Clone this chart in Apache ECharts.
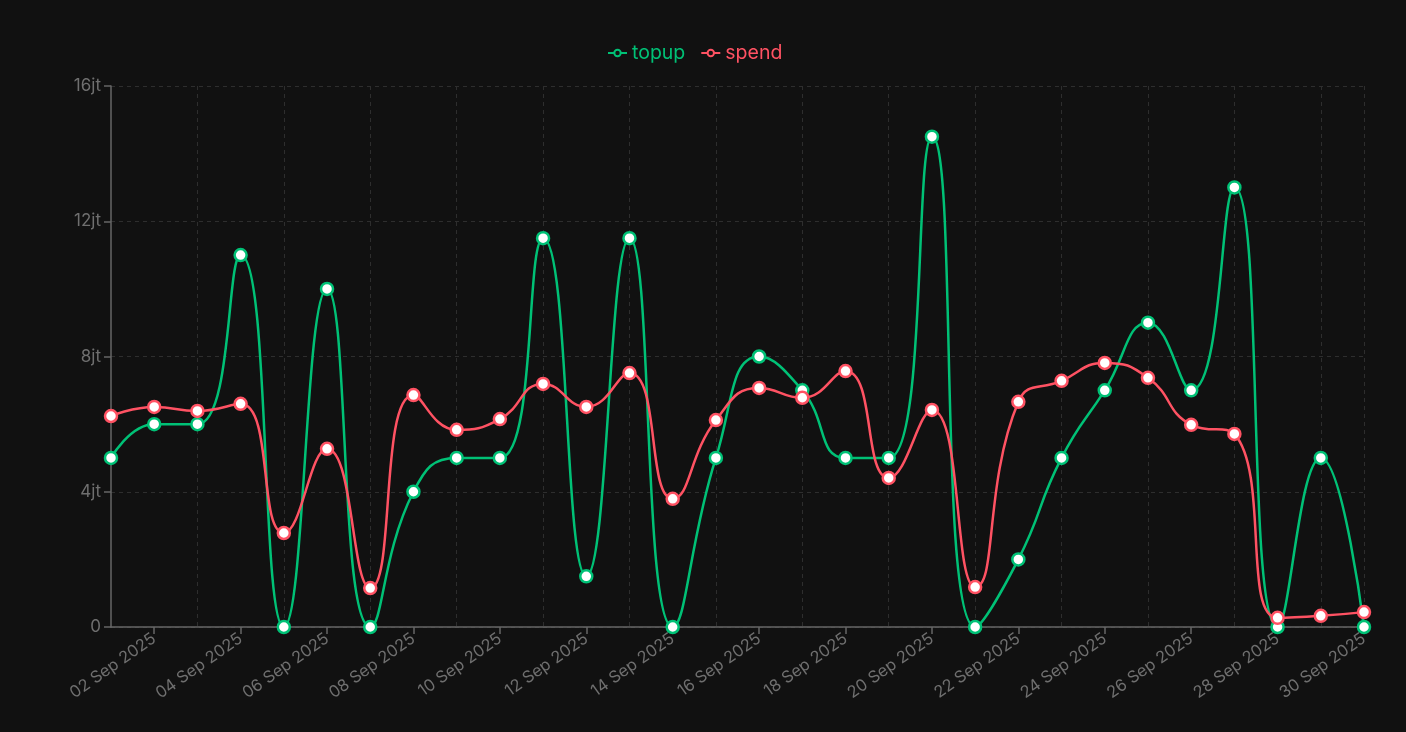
<!DOCTYPE html>
<html>
<head>
<meta charset="utf-8">
<script src="https://cdn.jsdelivr.net/npm/echarts@6/dist/echarts.min.js"></script>
<style>
html,body{margin:0;padding:0;background:#111111;}
#c{width:1406px;height:732px;}
</style>
</head>
<body>
<div id="c"></div>
<script>
var categories = ["01 Sep 2025","02 Sep 2025","03 Sep 2025","04 Sep 2025","05 Sep 2025","06 Sep 2025","07 Sep 2025","08 Sep 2025","09 Sep 2025","10 Sep 2025","11 Sep 2025","12 Sep 2025","13 Sep 2025","14 Sep 2025","15 Sep 2025","16 Sep 2025","17 Sep 2025","18 Sep 2025","19 Sep 2025","20 Sep 2025","21 Sep 2025","22 Sep 2025","23 Sep 2025","24 Sep 2025","25 Sep 2025","26 Sep 2025","27 Sep 2025","28 Sep 2025","29 Sep 2025","30 Sep 2025"];
// values in jt (juta = million)
var topup = [5, 6, 6, 11, 0, 10, 0, 4, 5, 5, 11.5, 1.5, 11.5, 0, 5, 8, 7, 5, 5, 14.5, 0, 2, 5, 7, 9, 7, 13, 0, 5, 0];
var spend = [6.24, 6.51, 6.39, 6.60, 2.78, 5.27, 1.15, 6.86, 5.83, 6.15, 7.19, 6.51, 7.51, 3.79, 6.12, 7.07, 6.78, 7.57, 4.41, 6.42, 1.18, 6.66, 7.28, 7.81, 7.37, 5.98, 5.71, 0.27, 0.33, 0.44];
var yTicks = [0, 4, 8, 12, 16];

var green = '#00c176';
var red = '#ff5263';
var font = 'Inter, "Noto Sans", sans-serif';

var chart = echarts.init(document.getElementById('c'));
chart.setOption({
  backgroundColor: '#111111',
  textStyle: {fontFamily: font},
  legend: {
    top: 38,
    left: 602,
    itemWidth: 19,
    itemHeight: 8,
    itemGap: 15,
    textStyle: {fontSize: 19.5, fontFamily: font},
    data: [
      {name: 'topup', textStyle: {color: green}, itemStyle: {color: '#111111', borderColor: green, borderWidth: 2}},
      {name: 'spend', textStyle: {color: red}, itemStyle: {color: '#111111', borderColor: red, borderWidth: 2}}
    ]
  },
  grid: {left: 111, right: 42, top: 86, bottom: 105},
  xAxis: {
    type: 'category',
    boundaryGap: false,
    data: categories,
    axisLine: {lineStyle: {color: '#666', width: 1.5}},
    axisTick: {show: true, interval: function(i){return i % 2 === 1;}, length: 7, lineStyle: {color: '#666', width: 1.5}},
    axisLabel: {
      interval: function(i){return i % 2 === 1;},
      rotate: 35,
      color: '#6f6f6f',
      fontSize: 16.5,
      fontFamily: font,
      margin: 10
    },
    splitLine: {
      show: true,
      interval: function(i){return (i % 2 === 0 && i > 0) || i === categories.length - 1;},
      lineStyle: {color: '#2e2e2e', type: [4, 4], width: 1}
    }
  },
  yAxis: {
    type: 'value',
    min: yTicks[0],
    max: yTicks[yTicks.length - 1],
    interval: 4,
    axisLine: {show: true, lineStyle: {color: '#666', width: 1.5}},
    axisTick: {show: true, length: 7, lineStyle: {color: '#666', width: 1.5}},
    axisLabel: {
      color: '#6f6f6f',
      fontSize: 17,
      fontFamily: font,
      margin: 10,
      formatter: function(v){return v === 0 ? '0' : v + 'jt';}
    },
    splitLine: {show: true, lineStyle: {color: '#2e2e2e', type: [4, 4], width: 1}}
  },
  series: [
    {
      name: 'topup',
      type: 'line',
      data: topup,
      smooth: 0.5,
      symbol: 'circle',
      symbolSize: 12,
      lineStyle: {color: green, width: 2.5},
      itemStyle: {color: '#ffffff', borderColor: green, borderWidth: 2.5},
      z: 2
    },
    {
      name: 'spend',
      type: 'line',
      data: spend,
      smooth: 0.5,
      symbol: 'circle',
      symbolSize: 12,
      lineStyle: {color: red, width: 2.5},
      itemStyle: {color: '#ffffff', borderColor: red, borderWidth: 2.5},
      z: 3
    }
  ]
});
</script>
</body>
</html>
